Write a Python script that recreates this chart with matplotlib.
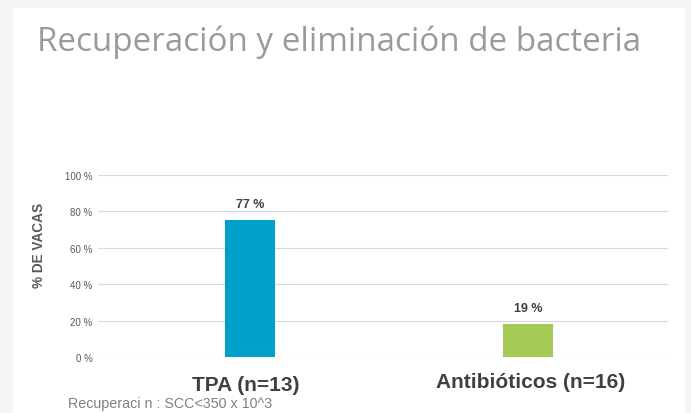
import matplotlib
matplotlib.use("Agg")
import matplotlib.pyplot as plt
from matplotlib.patches import Rectangle

categories = ["TPA (n=13)", "Antibióticos (n=16)"]
values = [75.5, 18.3]
value_labels = ["77 %", "19 %"]
colors = ["#00A0C8", "#A5C955"]
yticks = [0, 20, 40, 60, 80, 100]
ytick_labels = ["0 %", "20 %", "40 %", "60 %", "80 %", "100 %"]
title = "Recuperación y eliminación de bacteria"
ylabel = "% DE VACAS"
footnote = "Recuperaci n : SCC<350 x 10^3"

fig = plt.figure(figsize=(6.91, 4.14), dpi=100)
fig.patch.set_facecolor("#f5f5f5")
W, H = 691, 414
fig.add_artist(Rectangle((13 / W, 0), (685 - 13) / W, (414 - 9) / H,
                         transform=fig.transFigure, facecolor="white",
                         edgecolor="none", zorder=0))

ax = fig.add_axes([98 / W, 1 - 358 / H, (668 - 98) / W, (358 - 176) / H])
ax.set_facecolor("none")
x = list(range(len(categories)))
ax.bar(x, values, width=0.18, color=colors, zorder=3)
ax.set_xlim(-0.547, 1.504)
ax.set_ylim(0, 100)
ax.set_yticks(yticks)
ax.set_yticklabels(ytick_labels, fontsize=7, color="#595959",
                   family="Liberation Sans")
ax.tick_params(axis="y", length=0, pad=4)
ax.tick_params(axis="x", length=0)
ax.set_xticks([])
ax.grid(axis="y", color="#d9d9d9", linewidth=0.8, zorder=0)
for s in ax.spines.values():
    s.set_visible(False)

for xi, v, lab in zip(x, values, value_labels):
    ax.annotate(lab, (xi, v), xytext=(0, 7), textcoords="offset points",
                ha="center", va="bottom", fontsize=9, fontweight="bold",
                color="#404040", family="Liberation Sans")

cat_offsets = [(-3, -13), (2, -11)]
for xi, cat, off in zip(x, categories, cat_offsets):
    ax.annotate(cat, (xi, 0), xytext=off, textcoords="offset points",
                ha="center", va="top", fontsize=15, fontweight="bold",
                color="#404040", family="Liberation Sans")

fig.text(39 / W, 1 - 245 / H, ylabel, rotation=90, ha="center", va="center",
         fontsize=9.8, fontweight="bold", color="#595959",
         family="Liberation Sans")

t = fig.text(339 / W, 1 - 42 / H, title, ha="center", va="center",
             fontsize=22, color="#9a9a9a", family="Open Sans")
fig.canvas.draw()
wpx = t.get_window_extent().width
t.set_fontsize(22 * 603 / wpx)

fig.text(68 / W, 1 - 404 / H, footnote, ha="left", va="center",
         fontsize=10.3, color="#808080", family="Liberation Sans")

fig.savefig("out.png", dpi=100, facecolor=fig.get_facecolor())
